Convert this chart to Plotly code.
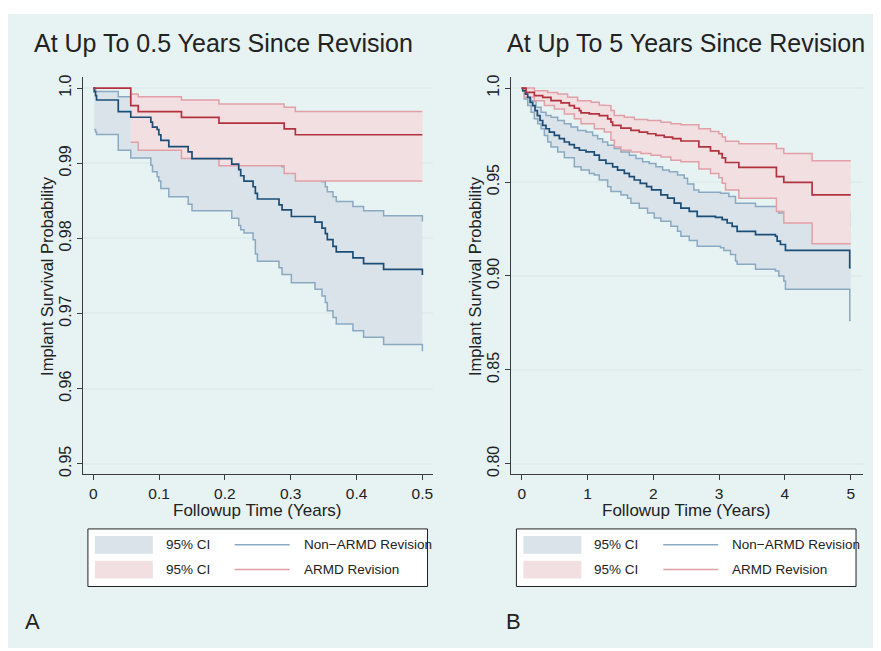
import plotly.graph_objects as go

# The page body has an 8px margin, so the figure is drawn 8px smaller and
# every layout pixel below is given in page coordinates and shifted by OFF.
PAGE_W, PAGE_H = 881, 651
OFF = 8
W, H = PAGE_W - OFF, PAGE_H - OFF

# ---------------- Panel A : up to 0.5 years ----------------
a_blue_t = [0, 0.0015, 0.0035, 0.005, 0.038, 0.057, 0.0875, 0.090, 0.097, 0.0996, 0.1027, 0.1148,
            0.1442, 0.150, 0.2104, 0.221, 0.224, 0.229, 0.2428, 0.2463, 0.2494, 0.2822, 0.2868,
            0.301, 0.3369, 0.3475, 0.3526, 0.3556, 0.3642, 0.3692, 0.3945, 0.4107, 0.4411, 0.5]
a_blue_s = [1.0, 0.99952, 0.99899, 0.99841, 0.99687, 0.99612, 0.99546, 0.9948, 0.99449, 0.99379,
            0.99304, 0.9922, 0.9915, 0.99062, 0.98987, 0.98916, 0.98833, 0.98762, 0.98687, 0.98599,
            0.98524, 0.98445, 0.98379, 0.98291, 0.98216, 0.98137, 0.98062, 0.97982, 0.97894,
            0.97819, 0.9774, 0.97665, 0.97586, 0.97511]
a_blue_ci_t = a_blue_t[1:]
a_blue_hi = [1.0, 0.99956, 0.99956, 0.99885, 0.9983, 0.9980, 0.9977, 0.9975, 0.9971, 0.9967, 0.9962,
             0.9958, 0.9953, 0.9948, 0.9943, 0.9938, 0.9933, 0.9928, 0.9922, 0.9917, 0.9905,
             0.98952, 0.98885, 0.9882, 0.98753, 0.98687, 0.98621, 0.98555, 0.98489, 0.98423,
             0.98366, 0.983, 0.98225]
a_blue_lo = [0.99449, 0.99414, 0.99383, 0.99172, 0.9907, 0.98974, 0.98885, 0.98819, 0.98762,
             0.98665, 0.98555, 0.98454, 0.98366, 0.98269, 0.98172, 0.98115, 0.9807, 0.97982,
             0.97793, 0.97696, 0.97608, 0.9752, 0.9741, 0.97322, 0.97233, 0.97145, 0.97035,
             0.96947, 0.96859, 0.96771, 0.96683, 0.96586, 0.96498]

a_red_t = [0, 0.057, 0.0683, 0.134, 0.191, 0.290, 0.307, 0.5]
a_red_s = [1.0, 0.99767, 0.99687, 0.9961, 0.99533, 0.99458, 0.99379, 0.99379]
a_red_ci_t = a_red_t[1:]
a_red_hi = [0.99921, 0.99885, 0.99841, 0.99789, 0.99744, 0.99687, 0.99687]
a_red_lo = [0.99278, 0.99172, 0.99062, 0.98965, 0.98863, 0.98762, 0.98762]

# ---------------- Panel B : up to 5 years ----------------
b_blue_t = [0, 0.015, 0.056, 0.091, 0.127, 0.167, 0.202, 0.238, 0.278, 0.319, 0.369, 0.420, 0.496,
            0.572, 0.648, 0.724, 0.800, 0.876, 0.977, 1.103, 1.179, 1.280, 1.382, 1.457, 1.559,
            1.635, 1.711, 1.802, 1.898, 1.974, 2.115, 2.217, 2.318, 2.419, 2.546, 2.667, 2.945,
            3.047, 3.122, 3.198, 3.274, 3.553, 3.856, 3.882, 3.932, 4.008, 4.985, 5.0]
b_blue_s = [1.0, 0.99859, 0.99683, 0.99507, 0.99243, 0.99067, 0.98803, 0.98539, 0.98275, 0.98011,
            0.97835, 0.97658, 0.97482, 0.97306, 0.97130, 0.96989, 0.96813, 0.96690, 0.96602,
            0.96426, 0.96162, 0.95986, 0.95810, 0.95634, 0.95458, 0.95282, 0.95106, 0.94930,
            0.94754, 0.94577, 0.94313, 0.94137, 0.93873, 0.93609, 0.93433, 0.93169, 0.93116,
            0.92993, 0.92817, 0.92641, 0.92377, 0.92201, 0.92113, 0.91849, 0.91673, 0.91356,
            0.90440, 0.90440]
b_blue_hi_t = [0, 0.015, 0.142, 0.218, 0.294, 0.369, 0.445, 0.547, 0.648, 0.749, 0.850, 0.977,
               1.078, 1.154, 1.230, 1.306, 1.407, 1.508, 1.635, 1.736, 1.837, 1.938, 2.039, 2.141,
               2.242, 2.368, 2.470, 2.520, 2.616, 2.692, 3.021, 3.148, 3.249, 3.553, 3.882, 3.907,
               4.985, 5.0]
b_blue_hi = [1.0, 0.99859, 0.99331, 0.98979, 0.98715, 0.98539, 0.98451, 0.98275, 0.98099, 0.97923,
             0.97746, 0.97658, 0.97482, 0.97306, 0.97130, 0.96954, 0.96778, 0.96602, 0.96426,
             0.96250, 0.96074, 0.95986, 0.95810, 0.95634, 0.95546, 0.95370, 0.95194, 0.94900,
             0.94577, 0.94454, 0.94401, 0.94225, 0.93873, 0.93697, 0.93521, 0.93345, 0.92700,
             0.92700]
b_blue_lo_t = [0, 0.040, 0.091, 0.142, 0.192, 0.243, 0.294, 0.344, 0.395, 0.445, 0.547, 0.648,
               0.800, 0.901, 1.027, 1.103, 1.179, 1.306, 1.356, 1.508, 1.609, 1.660, 1.786, 1.913,
               2.014, 2.115, 2.267, 2.368, 2.419, 2.546, 2.667, 3.021, 3.072, 3.173, 3.249, 3.274,
               3.553, 3.856, 3.907, 3.983, 4.008, 4.985, 5.0]
b_blue_lo = [1.0, 0.99419, 0.99067, 0.98715, 0.98363, 0.98099, 0.97835, 0.97482, 0.97130, 0.96866,
             0.96602, 0.96285, 0.95810, 0.95634, 0.95458, 0.95370, 0.95106, 0.94754, 0.94489,
             0.94313, 0.94137, 0.93873, 0.93609, 0.93345, 0.93081, 0.92905, 0.92641, 0.92377,
             0.92113, 0.91884, 0.91585, 0.91496, 0.91356, 0.91144, 0.90792, 0.90616, 0.90352,
             0.90264, 0.90000, 0.89736, 0.89296, 0.87623, 0.87623]

b_red_t = [0, 0.066, 0.192, 0.319, 0.445, 0.597, 0.724, 0.800, 0.876, 0.901, 1.027, 1.179, 1.306,
           1.356, 1.382, 1.508, 1.660, 1.786, 1.913, 2.039, 2.166, 2.293, 2.419, 2.692, 2.869,
           2.996, 3.047, 3.097, 3.300, 3.871, 3.983, 4.413, 5.0]
b_red_s = [1.0, 0.99771, 0.99595, 0.99507, 0.99331, 0.99208, 0.99067, 0.98926, 0.98803, 0.98680,
           0.98627, 0.98539, 0.98363, 0.98187, 0.98011, 0.97870, 0.97746, 0.97658, 0.97570,
           0.97482, 0.97394, 0.97306, 0.97183, 0.96866, 0.96655, 0.96514, 0.96285, 0.96039,
           0.95775, 0.95282, 0.94982, 0.94313, 0.94313]
b_red_hi_t = [0, 0.192, 0.395, 0.547, 0.698, 0.850, 1.053, 1.179, 1.280, 1.356, 1.407, 1.559,
              1.711, 1.913, 2.115, 2.267, 2.419, 2.692, 2.869, 2.996, 3.047, 3.097, 3.300, 3.871,
              3.983, 4.413, 5.0]
b_red_hi = [1.0, 0.99859, 0.99771, 0.99683, 0.99507, 0.99331, 0.99243, 0.99102, 0.99067, 0.98803,
            0.98539, 0.98451, 0.98327, 0.98275, 0.98187, 0.98099, 0.98046, 0.97835, 0.97694,
            0.97570, 0.97394, 0.97165, 0.97042, 0.96778, 0.96514, 0.96127, 0.96127]
b_red_lo_t = [0, 0.040, 0.192, 0.344, 0.496, 0.648, 0.800, 0.901, 1.103, 1.255, 1.356, 1.407,
              1.508, 1.660, 1.812, 1.964, 2.115, 2.267, 2.419, 2.692, 2.869, 2.996, 3.047, 3.097,
              3.300, 3.871, 3.983, 4.413, 5.0]
b_red_lo = [1.0, 0.99507, 0.99331, 0.99067, 0.98891, 0.98627, 0.98363, 0.98099, 0.97835, 0.97658,
            0.97218, 0.96866, 0.96690, 0.96602, 0.96514, 0.96426, 0.96338, 0.96162, 0.96074,
            0.95687, 0.95458, 0.95229, 0.94930, 0.94577, 0.94137, 0.93433, 0.92817, 0.91708,
            0.91708]

titles = ["At Up To 0.5 Years Since Revision", "At Up To 5 Years Since Revision"]
panel_letters = ["A", "B"]
a_xticks = [0, 0.1, 0.2, 0.3, 0.4, 0.5]
a_xtick_labels = ["0", "0.1", "0.2", "0.3", "0.4", "0.5"]
a_yticks = [0.95, 0.96, 0.97, 0.98, 0.99, 1.0]
a_ytick_labels = ["0.95", "0.96", "0.97", "0.98", "0.99", "1.0"]
b_xticks = [0, 1, 2, 3, 4, 5]
b_xtick_labels = ["0", "1", "2", "3", "4", "5"]
b_yticks = [0.80, 0.85, 0.90, 0.95, 1.0]
b_ytick_labels = ["0.80", "0.85", "0.90", "0.95", "1.0"]
legend_ci = "95% CI"
legend_names = ["Non\u2212ARMD Revision", "ARMD Revision"]
x_title = "Followup Time (Years)"
y_title = "Implant Survival Probability"

# ---------------- styling ----------------
BG = "#e7f2f2"
GRID = "#e0eded"
AXIS = "#3c3c3c"
TXT = "#222222"
BLUE_LINE = "#1b4d77"
RED_LINE = "#b2333d"
BLUE_EDGE = "#8aa9c3"
RED_EDGE = "#e2a0a6"
BLUE_FILL = "#dae3ea"
RED_FILL = "#f1dfe2"
FONT = "Liberation Sans, Arial, sans-serif"


def steps(t, s):
    xs, ys = [t[0]], [s[0]]
    for i in range(1, len(t)):
        xs += [t[i], t[i]]
        ys += [s[i - 1], s[i]]
    return xs, ys


def fx(p):
    return (p - OFF) / W


def fy(p):
    return 1 - (p - OFF) / H


fig = go.Figure()


def add_band(xa, ya, hi_t, hi, lo_t, lo, fill, edge):
    ux, uy = steps(hi_t, hi)
    lx, ly = steps(lo_t, lo)
    fig.add_trace(go.Scatter(x=ux + lx[::-1], y=uy + ly[::-1], fill="toself", fillcolor=fill,
                             line=dict(width=0), mode="lines", hoverinfo="skip",
                             showlegend=False, xaxis=xa, yaxis=ya))
    for X, Y in ((ux, uy), (lx, ly)):
        fig.add_trace(go.Scatter(x=X, y=Y, mode="lines", line=dict(color=edge, width=1.5),
                                 hoverinfo="skip", showlegend=False, xaxis=xa, yaxis=ya))


def add_line(xa, ya, t, s, color):
    X, Y = steps(t, s)
    fig.add_trace(go.Scatter(x=X, y=Y, mode="lines", line=dict(color=color, width=1.7),
                             showlegend=False, xaxis=xa, yaxis=ya))


# panel A
add_band("x", "y", a_blue_ci_t, a_blue_hi, a_blue_ci_t, a_blue_lo, BLUE_FILL, BLUE_EDGE)
add_band("x", "y", a_red_ci_t, a_red_hi, a_red_ci_t, a_red_lo, RED_FILL, RED_EDGE)
add_line("x", "y", a_blue_t, a_blue_s, BLUE_LINE)
add_line("x", "y", a_red_t, a_red_s, RED_LINE)
# panel B
add_band("x2", "y2", b_blue_hi_t, b_blue_hi, b_blue_lo_t, b_blue_lo, BLUE_FILL, BLUE_EDGE)
add_band("x2", "y2", b_red_hi_t, b_red_hi, b_red_lo_t, b_red_lo, RED_FILL, RED_EDGE)
add_line("x2", "y2", b_blue_t, b_blue_s, BLUE_LINE)
add_line("x2", "y2", b_red_t, b_red_s, RED_LINE)

# plot area pixel boxes (page coordinates)
PA = dict(l=83, r=433, t=75, b=475)
PB = dict(l=511.7, r=864, t=75, b=475)

xcommon = dict(showgrid=False, zeroline=False, showline=True, linecolor=AXIS, linewidth=1,
               ticks="outside", ticklen=5, tickcolor=AXIS, tickwidth=1,
               tickfont=dict(family=FONT, size=15.5, color=TXT))
ycommon = dict(showgrid=True, gridcolor=GRID, gridwidth=1.5, zeroline=False, showline=True,
               linecolor=AXIS, linewidth=1, ticks="outside", ticklen=5, tickcolor=AXIS,
               tickwidth=1, tickangle=-90, tickfont=dict(family=FONT, size=16, color=TXT))

fig.update_layout(
    width=W, height=H, margin=dict(l=0, r=0, t=0, b=0),
    paper_bgcolor="white", plot_bgcolor="white", showlegend=False,
    xaxis=dict(xcommon, domain=[fx(PA["l"]), fx(PA["r"])], range=[-0.0157, 0.5154],
               tickvals=a_xticks, ticktext=a_xtick_labels, anchor="y"),
    yaxis=dict(ycommon, domain=[fy(PA["b"]), fy(PA["t"])], range=[0.94859, 1.00141],
               tickvals=a_yticks, ticktext=a_ytick_labels, anchor="x"),
    xaxis2=dict(xcommon, domain=[fx(PB["l"]), min(1.0, fx(PB["r"]))], range=[-0.161, 5.187],
                tickvals=b_xticks, ticktext=b_xtick_labels, anchor="y2"),
    yaxis2=dict(ycommon, domain=[fy(PB["b"]), fy(PB["t"])], range=[0.79435, 1.00565],
                tickvals=b_yticks, ticktext=b_ytick_labels, anchor="x2"),
)

shapes = [dict(type="rect", xref="paper", yref="paper", x0=max(0.0, fx(7)), x1=1,
               y0=max(0.0, fy(650)), y1=fy(11),
               fillcolor=BG, line=dict(width=0), layer="below")]
annotations = []

for k, (P, box_l, box_r) in enumerate(((PA, 88, 428), (PB, 517, 857))):
    tcx = 224 if k == 0 else 687
    annotations.append(dict(text=titles[k], x=fx(tcx), y=fy(40), xref="paper", yref="paper",
                            showarrow=False, xanchor="center", yanchor="middle",
                            font=dict(family=FONT, size=25, color=TXT)))
    annotations.append(dict(text=x_title, x=fx(258 if k == 0 else 687), y=fy(511), xref="paper",
                            yref="paper", showarrow=False, xanchor="center", yanchor="middle",
                            font=dict(family=FONT, size=17, color=TXT)))
    annotations.append(dict(text=y_title, x=fx(P["l"] - 36), y=fy(275), xref="paper",
                            yref="paper", showarrow=False, textangle=-90, xanchor="center",
                            yanchor="middle", font=dict(family=FONT, size=16.5, color=TXT)))
    annotations.append(dict(text=panel_letters[k], x=fx(33 if k == 0 else 514), y=fy(623),
                            xref="paper", yref="paper", showarrow=False, xanchor="center",
                            yanchor="middle", font=dict(family=FONT, size=22, color=TXT)))
    shapes.append(dict(type="rect", xref="paper", yref="paper", x0=fx(box_l), x1=fx(box_r),
                       y0=fy(588), y1=fy(530), fillcolor="white",
                       line=dict(color="#222222", width=1)))
    for j, (fill, edge, name) in enumerate(((BLUE_FILL, BLUE_EDGE, legend_names[0]),
                                            (RED_FILL, RED_EDGE, legend_names[1]))):
        yc = 546 + 25 * j
        sw_l = box_l + 7
        shapes.append(dict(type="rect", xref="paper", yref="paper", x0=fx(sw_l), x1=fx(sw_l + 58),
                           y0=fy(yc + 9), y1=fy(yc - 9), fillcolor=fill, line=dict(width=0)))
        annotations.append(dict(text=legend_ci, x=fx(box_l + 76), y=fy(yc), xref="paper",
                                yref="paper", showarrow=False, xanchor="left", yanchor="middle",
                                font=dict(family=FONT, size=13.5, color=TXT)))
        shapes.append(dict(type="line", xref="paper", yref="paper", x0=fx(box_l + 147),
                           x1=fx(box_l + 202), y0=fy(yc), y1=fy(yc),
                           line=dict(color=edge, width=1.5)))
        annotations.append(dict(text=name, x=fx(box_l + 214), y=fy(yc), xref="paper",
                                yref="paper", showarrow=False, xanchor="left", yanchor="middle",
                                font=dict(family=FONT, size=13.5, color=TXT)))

fig.update_layout(shapes=shapes, annotations=annotations)
fig.write_html("out.html")
